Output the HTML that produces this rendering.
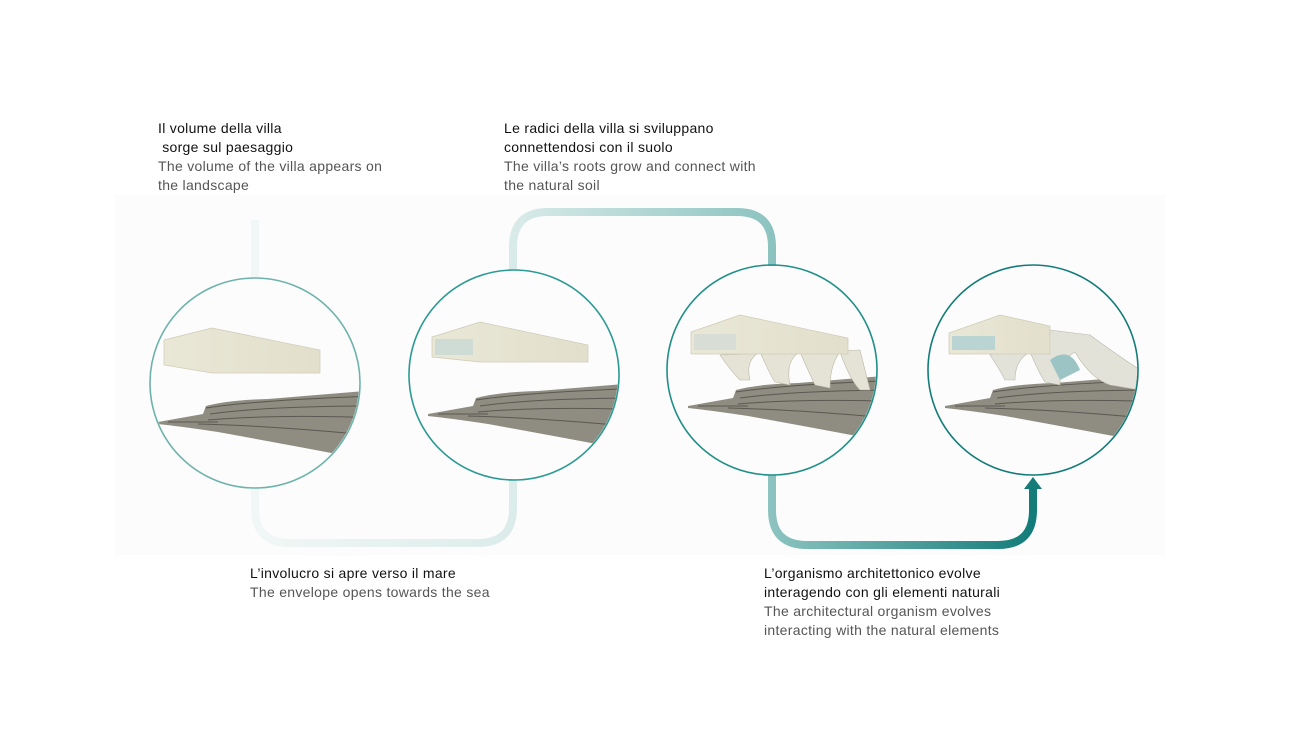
<!DOCTYPE html>
<html><head><meta charset="utf-8"><style>
body{margin:0;background:#fff;}
.t{position:absolute;font-family:"Liberation Sans",sans-serif;font-size:14px;line-height:19px;color:#111;letter-spacing:0.3px;}
.t span{color:#555;font-weight:normal;}
</style></head><body>
<div style="position:relative;width:1300px;height:731px;overflow:hidden;">
<svg width="1300" height="731" style="position:absolute;left:0;top:0">
<defs>
<linearGradient id="g1" x1="255" y1="0" x2="513" y2="0" gradientUnits="userSpaceOnUse"><stop offset="0" stop-color="#f1f7f6"/><stop offset="1" stop-color="#dcecea"/></linearGradient>
<linearGradient id="g2" x1="513" y1="0" x2="772" y2="0" gradientUnits="userSpaceOnUse"><stop offset="0" stop-color="#d9ebe9"/><stop offset="1" stop-color="#8cc3c0"/></linearGradient>
<linearGradient id="g3" x1="772" y1="0" x2="1033" y2="0" gradientUnits="userSpaceOnUse"><stop offset="0" stop-color="#8cc3c0"/><stop offset="1" stop-color="#137c79"/></linearGradient>
<linearGradient id="box" x1="0" y1="0" x2="1" y2="0"><stop offset="0" stop-color="#e9e7d6"/><stop offset="1" stop-color="#e2dfcc"/></linearGradient>
<clipPath id="c1"><circle cx="255" cy="383" r="104"/></clipPath>
<clipPath id="c2"><circle cx="514" cy="375" r="104"/></clipPath>
<clipPath id="c3"><circle cx="772" cy="370" r="104"/></clipPath>
<clipPath id="c4"><circle cx="1033" cy="370" r="104"/></clipPath>
<g id="terrain">
<path d="M0,20 L45,12 L48,4 Q70,-2 110,-3 L220,-12 L220,60 Q170,50 60,30 Q20,24 0,22 Z" fill="#8f8d82"/>
<path d="M48,6 Q100,-2 220,-6 M52,12 Q110,4 220,4 M50,18 Q120,12 220,16 M40,22 Q120,24 220,34 M10,20 L60,20" stroke="#5a5850" stroke-width="1" fill="none"/>
</g>
</defs>
<rect x="115" y="195" width="1050" height="360" fill="#fcfcfc"/>
<g fill="none" stroke-width="8">
<path d="M255,220 V278 M255,487 V508 Q255,543 290,543 H478 Q513,543 513,508 V479" stroke="url(#g1)"/>
<path d="M513,270 V247 Q513,212 548,212 H737 Q772,212 772,247 V266" stroke="url(#g2)"/>
<path d="M772,475 V510 Q772,545 807,545 H998 Q1033,545 1033,510 V488" stroke="url(#g3)"/>
</g>
<polygon points="1024,489 1033,477 1042,489" fill="#137c79"/>
<g clip-path="url(#c1)">
<use href="#terrain" x="158" y="402"/>
<polygon points="164,340 212,328 320,350 320,373 212,373 164,365" fill="url(#box)" stroke="#cfcbb6" stroke-width="0.7"/>
</g>
<g clip-path="url(#c2)">
<use href="#terrain" x="428" y="394"/>
<polygon points="432,337 480,322 588,345 588,362 480,362 432,357" fill="url(#box)" stroke="#cfcbb6" stroke-width="0.7"/>
<polygon points="435,339 473,339 473,355 435,355" fill="#cfdcd6"/>
</g>
<g clip-path="url(#c3)">
<use href="#terrain" x="688" y="386"/>
<path d="M720,355 Q730,370 740,380 L750,380 Q745,360 760,352 Q770,375 775,382 L790,385 Q785,360 800,352 Q810,375 815,385 L830,388 Q830,365 840,352 Q850,380 860,390 L870,390 L860,350 Z" fill="#e5e3d6" stroke="#bab7a5" stroke-width="0.6"/>
<polygon points="691,332 740,315 848,338 848,354 740,354 691,354" fill="url(#box)" stroke="#cfcbb6" stroke-width="0.7"/>
<polygon points="694,334 736,334 736,350 694,350" fill="#d8ddd6"/>
</g>
<g clip-path="url(#c4)">
<use href="#terrain" x="945" y="386"/>
<path d="M990,355 Q1000,370 1005,380 L1015,380 Q1015,360 1030,352 Q1040,375 1045,382 L1060,385 Q1060,360 1075,352 Q1090,378 1110,385 L1140,390 L1140,370 Q1110,350 1090,335 L1050,330 Z" fill="#e2e2d8" stroke="#b8b7a8" stroke-width="0.6"/>
<path d="M1050,360 Q1070,345 1080,370 L1060,380 Z" fill="#9cc4c4"/>
<polygon points="949,333 1000,315 1050,326 1050,354 949,354" fill="url(#box)" stroke="#cfcbb6" stroke-width="0.7"/>
<polygon points="952,336 995,336 995,350 952,350" fill="#b9d4d2"/>
</g>
<circle cx="255" cy="383" r="105" fill="none" stroke="#6eb3aa" stroke-width="1.6"/>
<circle cx="514" cy="375" r="105" fill="none" stroke="#2b9a93" stroke-width="1.6"/>
<circle cx="772" cy="370" r="105" fill="none" stroke="#1f8f88" stroke-width="1.6"/>
<circle cx="1033" cy="370" r="105" fill="none" stroke="#137c79" stroke-width="1.6"/>
</svg>
<div class="t" style="left:158px;top:119px">Il volume della villa<br>&nbsp;sorge sul paesaggio<br><span>The volume of the villa appears on<br>the landscape</span></div>
<div class="t" style="left:504px;top:119px">Le radici della villa si sviluppano<br>connettendosi con il suolo<br><span>The villa’s roots grow and connect with<br>the natural soil</span></div>
<div class="t" style="left:250px;top:564px">L’involucro si apre verso il mare<br><span>The envelope opens towards the sea</span></div>
<div class="t" style="left:764px;top:564px">L’organismo architettonico evolve<br>interagendo con gli elementi naturali<br><span>The architectural organism evolves<br>interacting with the natural elements</span></div>
</div>
</body></html>
